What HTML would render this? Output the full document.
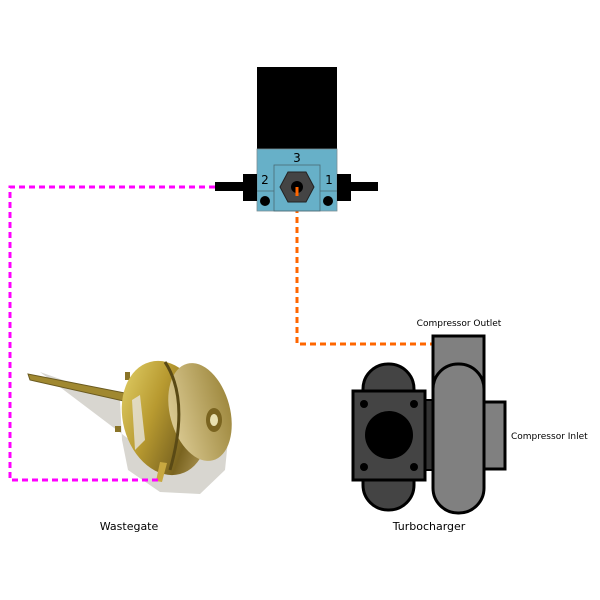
<!DOCTYPE html>
<html><head><style>body{margin:0;background:#fff}svg{display:block}text{font-family:"DejaVu Sans","Liberation Sans",sans-serif}</style></head>
<body>
<svg width="600" height="600" viewBox="0 0 600 600" xmlns="http://www.w3.org/2000/svg">
<defs>
<linearGradient id="g1" x1="0" y1="0" x2="1" y2="1">
<stop offset="0" stop-color="#e8d870"/><stop offset="0.4" stop-color="#b89a30"/><stop offset="0.7" stop-color="#7a6420"/><stop offset="1" stop-color="#c8b070"/></linearGradient>
<linearGradient id="g2" x1="0" y1="0" x2="1" y2="0">
<stop offset="0" stop-color="#d9c890"/><stop offset="1" stop-color="#a08a40"/></linearGradient>
</defs>
<!-- wastegate shadow -->
<path d="M40 372 L120 400 L122 440 L128 470 L160 492 L200 494 L225 470 L230 420 L215 400 L180 460 L130 440 Z" fill="#d8d6d0"/>
<!-- rod -->
<path d="M28 374 L30 380 L128 402 L130 394 Z" fill="#a08830" stroke="#6a5a20" stroke-width="1"/>
<rect x="125" y="372" width="5" height="8" fill="#8a7428"/>
<rect x="115" y="426" width="6" height="6" fill="#8a7428"/>
<!-- body -->
<ellipse cx="165" cy="418" rx="42" ry="58" fill="url(#g1)" transform="rotate(-15 165 418)"/>
<ellipse cx="200" cy="412" rx="30" ry="50" fill="url(#g2)" transform="rotate(-15 200 412)"/>
<path d="M165 362 Q190 400 170 470" stroke="#5a4a15" stroke-width="3" fill="none"/>
<ellipse cx="214" cy="420" rx="8" ry="12" fill="#7a6420"/>
<ellipse cx="214" cy="420" rx="4" ry="6" fill="#e8e0b0"/>
<path d="M132 400 L140 395 L145 440 L135 450 Z" fill="#e6e4de" opacity="0.8"/>
<path d="M160 462 L167 463 L162 482 L156 481 Z" fill="#c8a840"/>
<!-- connectors -->
<path d="M215 187 H10 V480 H162" fill="none" stroke="#ff00ff" stroke-width="3" stroke-dasharray="6,4"/>
<path d="M297 187 V344 H433" fill="none" stroke="#ff6600" stroke-width="3" stroke-dasharray="6,4"/>
<!-- solenoid -->
<rect x="257" y="67" width="80" height="82" fill="#000"/>
<rect x="257" y="149" width="80" height="62" fill="#67b0c8" stroke="#7a8f95" stroke-width="0.8"/>
<rect x="274" y="165" width="46" height="46" fill="none" stroke="#4a6a75" stroke-width="0.8"/>
<line x1="257" y1="191" x2="274" y2="191" stroke="#4a6a75" stroke-width="0.8"/>
<line x1="320" y1="191" x2="337" y2="191" stroke="#4a6a75" stroke-width="0.8"/>
<circle cx="265" cy="201" r="5" fill="#000"/>
<circle cx="328" cy="201" r="5" fill="#000"/>
<rect x="243" y="174" width="14" height="27" fill="#000"/>
<rect x="215" y="182" width="28" height="9" fill="#000"/>
<rect x="337" y="174" width="14" height="27" fill="#000"/>
<rect x="351" y="182" width="27" height="9" fill="#000"/>
<polygon points="280,187 288,172 306,172 314,187 306,202 288,202" fill="#444" stroke="#222" stroke-width="1"/>
<circle cx="297" cy="187" r="6" fill="#000"/>
<line x1="297" y1="187" x2="297" y2="196" stroke="#ff6600" stroke-width="3"/>
<text x="265" y="184" font-size="12" text-anchor="middle">2</text>
<text x="329" y="184" font-size="12" text-anchor="middle">1</text>
<text x="297" y="162" font-size="12" text-anchor="middle">3</text>
<!-- turbo -->
<rect x="363" y="364" width="51" height="146" rx="25" fill="#444" stroke="#000" stroke-width="3"/>
<rect x="425" y="400" width="10" height="70" fill="#333" stroke="#000" stroke-width="2"/>
<rect x="484" y="402" width="21" height="67" fill="#808080" stroke="#000" stroke-width="3"/>
<rect x="433" y="336" width="51" height="80" fill="#808080" stroke="#000" stroke-width="3"/>
<rect x="433" y="364" width="51" height="149" rx="25" fill="#808080" stroke="#000" stroke-width="3"/>
<rect x="353" y="391" width="72" height="89" fill="#444" stroke="#000" stroke-width="3"/>
<circle cx="389" cy="435" r="24" fill="#000"/>
<circle cx="364" cy="404" r="4" fill="#000"/><circle cx="414" cy="404" r="4" fill="#000"/>
<circle cx="364" cy="467" r="4" fill="#000"/><circle cx="414" cy="467" r="4" fill="#000"/>
<text x="459" y="326" font-size="9" text-anchor="middle">Compressor Outlet</text>
<text x="511" y="439" font-size="9">Compressor Inlet</text>
<text x="429" y="530" font-size="11" text-anchor="middle">Turbocharger</text>
<text x="129" y="530" font-size="11" text-anchor="middle">Wastegate</text>
</svg>
</body></html>
